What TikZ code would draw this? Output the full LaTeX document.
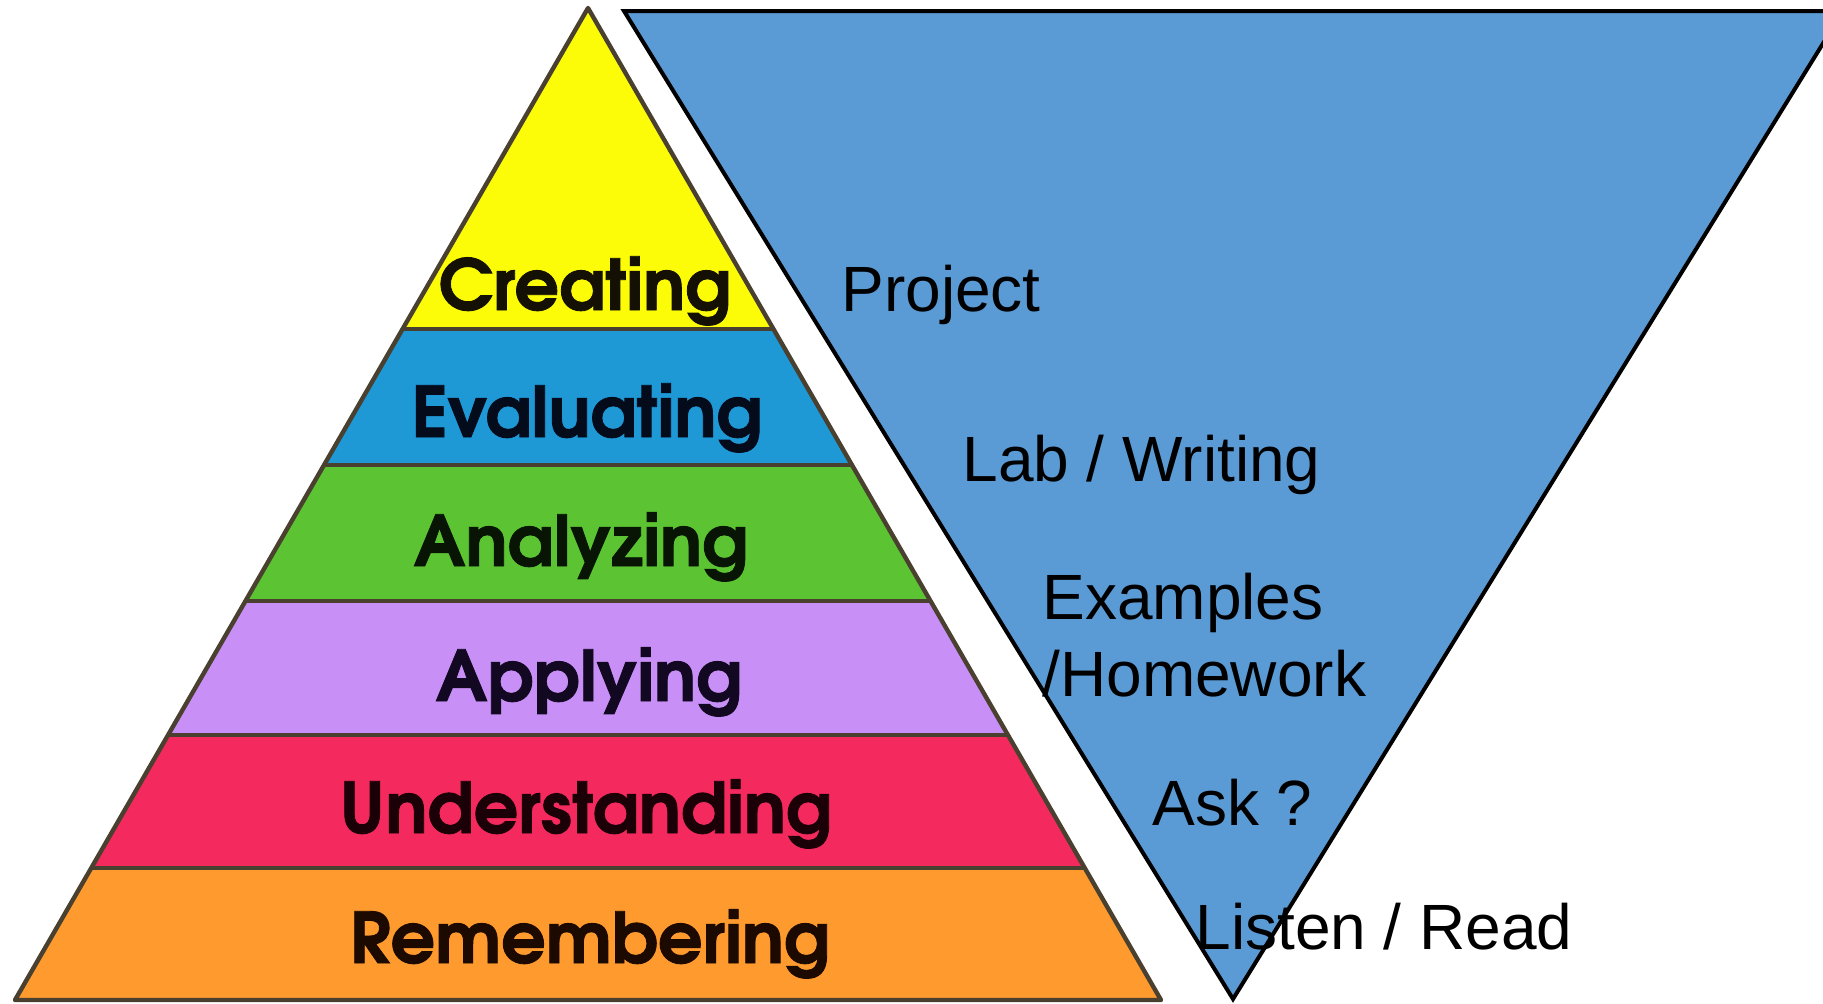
\documentclass[tikz,border=0pt]{standalone}
\usepackage{fontspec}
\setmainfont{Liberation Sans}
\newfontfamily\pyrfont{texgyreadventor}[Extension=.otf, UprightFont=*-bold, FakeBold=1.2]
\definecolor{invblue}{HTML}{5B9BD5}
\definecolor{cyel}{HTML}{FCFC08}
\definecolor{cblu}{HTML}{1F98D6}
\definecolor{cgrn}{HTML}{5CC432}
\definecolor{clil}{HTML}{C890F6}
\definecolor{cpnk}{HTML}{F42A5E}
\definecolor{corg}{HTML}{FE9A2E}
\definecolor{edge}{HTML}{4A4030}
\definecolor{tyel}{HTML}{141004}
\definecolor{tblu}{HTML}{040C1C}
\definecolor{tgrn}{HTML}{081404}
\definecolor{tlil}{HTML}{120822}
\definecolor{tpnk}{HTML}{1C0008}
\definecolor{torg}{HTML}{1C0A00}
\tikzset{
  band/.style={draw=edge, line width=2.2},
  pyrtext/.style={font=\pyrfont\fontsize{35}{40}\selectfont, anchor=base, inner sep=0},
  acttext/.style={font=\fontsize{32}{38.5}\selectfont, anchor=base west, inner sep=0, align=left, text=black},
}
\begin{document}
\begin{tikzpicture}[x=0.5pt, y=-0.5pt]
\useasboundingbox (0,0) rectangle (1823,1003);
\clip (0,0) rectangle (1823,1003);
\fill[white] (0,0) rectangle (1823,1003);
% pyramid coordinates
\coordinate (apex) at (588,8);
\coordinate (l1) at (402.6,329); \coordinate (r1) at (773.4,329);
\coordinate (l2) at (324.0,465); \coordinate (r2) at (852.0,465);
\coordinate (l3) at (245.5,601); \coordinate (r3) at (930.5,601);
\coordinate (l4) at (168.1,735); \coordinate (r4) at (1007.9,735);
\coordinate (l5) at (91.2,868);  \coordinate (r5) at (1084.8,868);
\coordinate (l6) at (15,1000);   \coordinate (r6) at (1161,1000);
% bands
\fill[cyel] (apex) -- (r1) -- (l1) -- cycle;
\fill[cblu] (l1) -- (r1) -- (r2) -- (l2) -- cycle;
\fill[cgrn] (l2) -- (r2) -- (r3) -- (l3) -- cycle;
\fill[clil] (l3) -- (r3) -- (r4) -- (l4) -- cycle;
\fill[cpnk] (l4) -- (r4) -- (r5) -- (l5) -- cycle;
\fill[corg] (l5) -- (r5) -- (r6) -- (l6) -- cycle;
\draw[band] (l1) -- (r1);
\draw[band] (l2) -- (r2);
\draw[band] (l3) -- (r3);
\draw[band] (l4) -- (r4);
\draw[band] (l5) -- (r5);
\draw[band, line join=round] (apex) -- (r6) -- (l6) -- cycle;
% pyramid labels
\node[pyrtext, text=tyel] (creating) at (585,310) {Creating};
\node[pyrtext, text=tblu] (evaluating) at (587,437) {Evaluating};
\node[pyrtext, text=tgrn] (analyzing) at (581,566) {Analyzing};
\node[pyrtext, text=tlil] (applying) at (589,701) {Applying};
\node[pyrtext, text=tpnk] (understanding) at (586,833) {Understanding};
\node[pyrtext, text=torg] (remembering) at (590,963) {Remembering};
% inverted triangle
\coordinate (tl) at (624,11);
\coordinate (tr) at (1843,11);
\coordinate (bot) at (1233,999);
\draw[fill=invblue, draw=black, line width=2] (tl) -- (tr) -- (bot) -- cycle;
% activity labels
\node[acttext] (project) at (841,311) {Project};
\node[acttext] (lab) at (962,481) {Lab / Writing};
\node[acttext, anchor=north west] (examples) at (1042,573) {Examples\\/Homework};
\node[acttext] (ask) at (1152,825) {Ask ?};
\node[acttext] (listen) at (1195,949) {Listen / Read};
\end{tikzpicture}
\end{document}
